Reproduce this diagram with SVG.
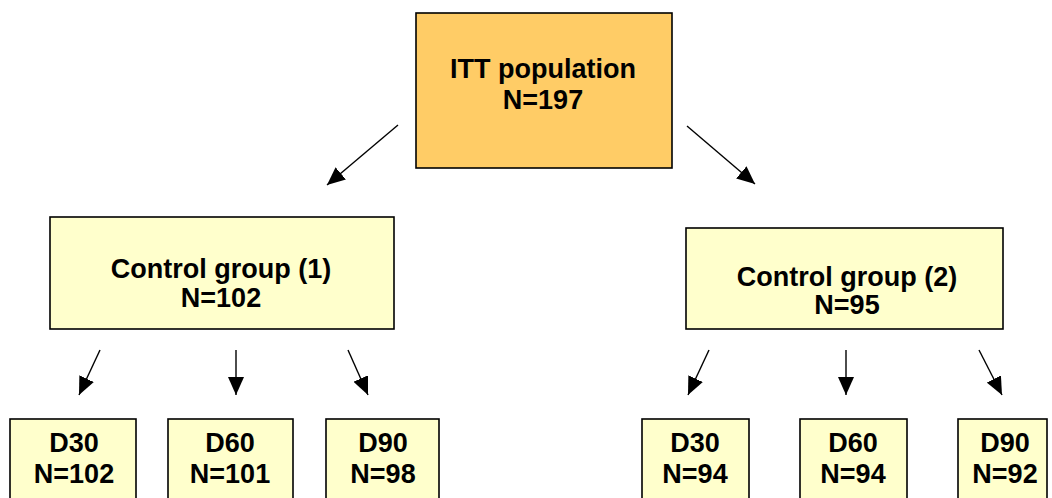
<svg xmlns="http://www.w3.org/2000/svg" width="1052" height="498" viewBox="0 0 1052 498">
  <style>
    .box { stroke: #000; stroke-width: 1.6; }
    .top { fill: #FFCC66; }
    .pale { fill: #FFFFCC; }
    text { font-family: "Liberation Sans", Arial, sans-serif; font-weight: bold; font-size: 27px; fill: #000; text-anchor: middle; }
    .conn { stroke: #000; stroke-width: 1.4; fill: none; marker-end: url(#arrow); }
  </style>
  <defs>
    <marker id="arrow" markerUnits="userSpaceOnUse" markerWidth="19" markerHeight="16" refX="18" refY="8" orient="auto">
      <path d="M0,0 L18,8 L0,16 z" fill="#000"/>
    </marker>
  </defs>
  <rect width="1052" height="498" fill="#fff"/>

  <g id="itt">
    <rect class="box top" x="416" y="13" width="256" height="155"/>
    <text x="543" y="78">ITT population</text>
    <text x="543" y="109">N=197</text>
  </g>
  <g id="control1">
    <rect class="box pale" x="50" y="217" width="344" height="112"/>
    <text x="221" y="278">Control group (1)</text>
    <text x="221" y="307">N=102</text>
  </g>
  <g id="control2">
    <rect class="box pale" x="686" y="228" width="317" height="101"/>
    <text x="847" y="286">Control group (2)</text>
    <text x="847" y="314">N=95</text>
  </g>
  <g id="c1-d30">
    <rect class="box pale" x="10" y="419" width="126" height="100"/>
    <text x="74" y="452">D30</text>
    <text x="74" y="483">N=102</text>
  </g>
  <g id="c1-d60">
    <rect class="box pale" x="168" y="419" width="125" height="100"/>
    <text x="230" y="452">D60</text>
    <text x="230" y="483">N=101</text>
  </g>
  <g id="c1-d90">
    <rect class="box pale" x="326" y="419" width="113" height="100"/>
    <text x="383" y="452">D90</text>
    <text x="383" y="483">N=98</text>
  </g>
  <g id="c2-d30">
    <rect class="box pale" x="642" y="419" width="107" height="100"/>
    <text x="695" y="452">D30</text>
    <text x="695" y="483">N=94</text>
  </g>
  <g id="c2-d60">
    <rect class="box pale" x="800" y="419" width="107" height="100"/>
    <text x="853" y="452">D60</text>
    <text x="853" y="483">N=94</text>
  </g>
  <g id="c2-d90">
    <rect class="box pale" x="958" y="419" width="89" height="100"/>
    <text x="1005" y="452">D90</text>
    <text x="1005" y="483">N=92</text>
  </g>

  <g id="connectors">
    <line class="conn" x1="398" y1="125" x2="327" y2="185"/>
    <line class="conn" x1="687" y1="126" x2="755" y2="184"/>
    <line class="conn" x1="100" y1="350" x2="79" y2="395"/>
    <line class="conn" x1="236" y1="350" x2="236" y2="395"/>
    <line class="conn" x1="348" y1="350" x2="368" y2="395"/>
    <line class="conn" x1="709" y1="350" x2="688" y2="395"/>
    <line class="conn" x1="846" y1="350" x2="846" y2="395"/>
    <line class="conn" x1="979" y1="350" x2="1002" y2="395"/>
  </g>
</svg>
